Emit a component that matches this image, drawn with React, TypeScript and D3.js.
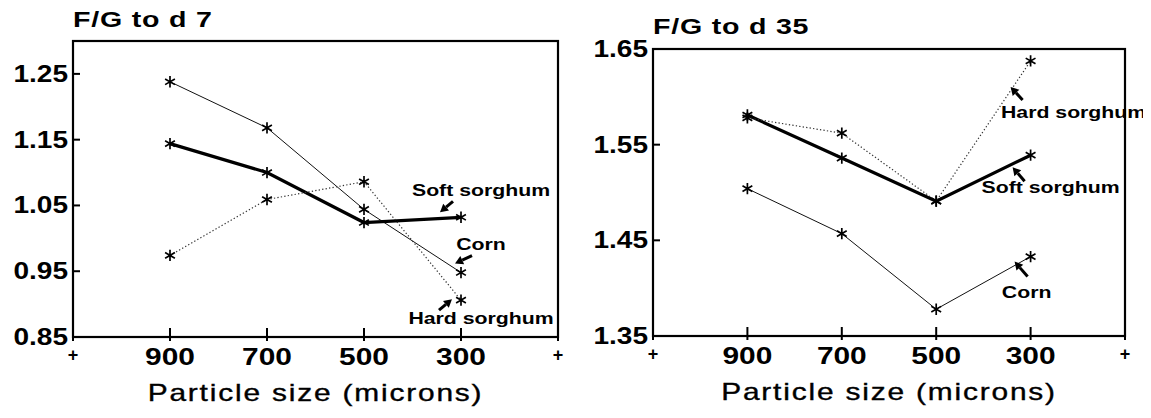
import React from "react";
import * as d3 from "d3";

const particleSizes = [900, 700, 500, 300];
const xTickValues = [1100, 900, 700, 500, 300, 100];
const xTickLabels = ["+", "900", "700", "500", "300", "+"];

// Panel 1: F/G to d 7
const d7Corn = [1.238, 1.168, 1.044, 0.948];
const d7Soft = [1.144, 1.1, 1.024, 1.032];
const d7Hard = [0.974, 1.059, 1.086, 0.906];
const d7YTicks = [0.85, 0.95, 1.05, 1.15, 1.25];

// Panel 2: F/G to d 35
const d35Corn = [1.504, 1.457, 1.378, 1.433];
const d35Soft = [1.581, 1.536, 1.491, 1.539];
const d35Hard = [1.578, 1.562, 1.491, 1.6375];
const d35YTicks = [1.35, 1.45, 1.55, 1.65];

const FONT = "'Liberation Sans', Arial, sans-serif";

type Series = { name: string; values: number[]; style: "thin" | "thick" | "dotted" };
type Note = { series: number; text: string; tdx: number; tdy: number; a: [number, number, number, number] };

function WideText(props: {
  x: number; y: number; sx: number; size: number; anchor?: string; bold?: boolean;
  ls?: number; stroke?: number; children: React.ReactNode;
}) {
  const { x, y, sx, size, anchor = "start", bold = true, ls = 0, stroke = 0, children } = props;
  return (
    <text
      transform={`translate(${x},${y}) scale(${sx},1)`}
      textAnchor={anchor}
      fontFamily={FONT}
      fontWeight={bold ? "bold" : "normal"}
      fontSize={size}
      letterSpacing={ls}
      fill="#000"
      stroke={stroke ? "#000" : "none"}
      strokeWidth={stroke}
    >
      {children}
    </text>
  );
}

function Panel(props: {
  x0: number; x1: number; yTop: number; yBot: number;
  yDomain: [number, number]; yTicks: number[]; title: string; titleY: number;
  series: Series[]; notes: Note[];
}) {
  const { x0, x1, yTop, yBot, yDomain, yTicks, title, titleY, series, notes } = props;
  const x = d3.scaleLinear().domain([1100, 100]).range([x0, x1]);
  const y = d3.scaleLinear().domain(yDomain).range([yBot, yTop]);
  const line = d3
    .line<number>()
    .x((_, i) => x(particleSizes[i]))
    .y((v) => y(v));
  const star = d3.symbol().type(d3.symbolAsterisk).size(90)();
  const styleOf = (s: Series["style"]) =>
    s === "thick"
      ? { stroke: "#000", strokeWidth: 3.2 }
      : s === "thin"
      ? { stroke: "#111", strokeWidth: 1 }
      : { stroke: "#333", strokeWidth: 1.2, strokeDasharray: "1.3,2.2" };
  return (
    <g>
      <WideText x={x0} y={titleY} sx={1.3} size={22} ls={0.6}>
        {title}
      </WideText>
      <rect x={x0} y={yTop} width={x1 - x0} height={yBot - yTop} fill="none" stroke="#000" strokeWidth={2.2} />
      {yTicks.map((t) => (
        <g key={t}>
          <line x1={x0} x2={x0 + 7} y1={y(t)} y2={y(t)} stroke="#000" strokeWidth={2} />
          <WideText x={x0 - 5} y={y(t) + 8} sx={1.22} size={23} anchor="end">
            {t.toFixed(2)}
          </WideText>
        </g>
      ))}
      {xTickValues.map((t, i) => (
        <g key={t}>
          <line x1={x(t)} x2={x(t)} y1={yBot + 4} y2={yBot - 9} stroke="#000" strokeWidth={2} />
          {xTickLabels[i] === "+" ? (
            <WideText x={x(t)} y={yBot + 24} sx={1} size={18} anchor="middle">
              +
            </WideText>
          ) : (
            <WideText x={x(t)} y={yBot + 28} sx={1.3} size={23} anchor="middle">
              {xTickLabels[i]}
            </WideText>
          )}
        </g>
      ))}
      <WideText x={(x0 + x1) / 2} y={yBot + 64} sx={1.3} size={23} anchor="middle" bold={false} ls={1.4} stroke={0.35}>
        Particle size (microns)
      </WideText>
      {series.map((s) => (
        <g key={s.name}>
          <path d={line(s.values) || ""} fill="none" {...styleOf(s.style)} />
          {s.values.map((v, i) => (
            <path
              key={i}
              d={star || ""}
              transform={`translate(${x(particleSizes[i])},${y(v)})`}
              fill="none"
              stroke="#000"
              strokeWidth={1.7}
            />
          ))}
        </g>
      ))}
      {notes.map((n, k) => {
        const s = series[n.series];
        const px = x(particleSizes[3]);
        const py = y(s.values[3]);
        const [ax, ay, bx, by] = n.a;
        const x1a = px + ax, y1a = py + ay, x2a = px + bx, y2a = py + by;
        const ang = Math.atan2(y2a - y1a, x2a - x1a);
        const hl = 8, hw = 4.5;
        const hx = x2a - hl * Math.cos(ang), hy = y2a - hl * Math.sin(ang);
        const head = `M${x2a},${y2a}L${hx + hw * Math.sin(ang)},${hy - hw * Math.cos(ang)}L${hx - hw * Math.sin(ang)},${hy + hw * Math.cos(ang)}Z`;
        return (
          <g key={k}>
            <line x1={x1a} y1={y1a} x2={hx} y2={hy} stroke="#000" strokeWidth={3} />
            <path d={head} fill="#000" />
            <WideText x={px + n.tdx} y={py + n.tdy + 6} sx={1.25} size={17} anchor="middle">
              {n.text}
            </WideText>
          </g>
        );
      })}
    </g>
  );
}

export default function App() {
  return (
    <svg width={1143} height={410} viewBox="8 8 1143 410" style={{ display: "block" }}>
      <rect x={0} y={0} width={1151} height={418} fill="#fff" />
      <Panel
        x0={73}
        x1={558}
        yTop={41}
        yBot={337}
        yDomain={[0.85, 1.3]}
        yTicks={d7YTicks}
        title="F/G to d 7"
        titleY={27}
        series={[
          { name: "Corn", values: d7Corn, style: "thin" },
          { name: "Soft sorghum", values: d7Soft, style: "thick" },
          { name: "Hard sorghum", values: d7Hard, style: "dotted" },
        ]}
        notes={[
          { series: 1, text: "Soft sorghum", tdx: 20, tdy: -27, a: [-8, -16, -21, -5] },
          { series: 0, text: "Corn", tdx: 20, tdy: -29, a: [11, -17, -6, -9] },
          { series: 2, text: "Hard sorghum", tdx: 20, tdy: 18, a: [-22, 10, -9, -1] },
        ]}
      />
      <Panel
        x0={653}
        x1={1125}
        yTop={49}
        yBot={336}
        yDomain={[1.35, 1.65]}
        yTicks={d35YTicks}
        title="F/G to d 35"
        titleY={34}
        series={[
          { name: "Corn", values: d35Corn, style: "thin" },
          { name: "Soft sorghum", values: d35Soft, style: "thick" },
          { name: "Hard sorghum", values: d35Hard, style: "dotted" },
        ]}
        notes={[
          { series: 2, text: "Hard sorghum", tdx: 43, tdy: 51, a: [-8, 39, -20, 26] },
          { series: 1, text: "Soft sorghum", tdx: 20, tdy: 32, a: [-6, 26, -18, 12] },
          { series: 0, text: "Corn", tdx: -4, tdy: 35, a: [-3, 20, -16, 5] },
        ]}
      />
    </svg>
  );
}
